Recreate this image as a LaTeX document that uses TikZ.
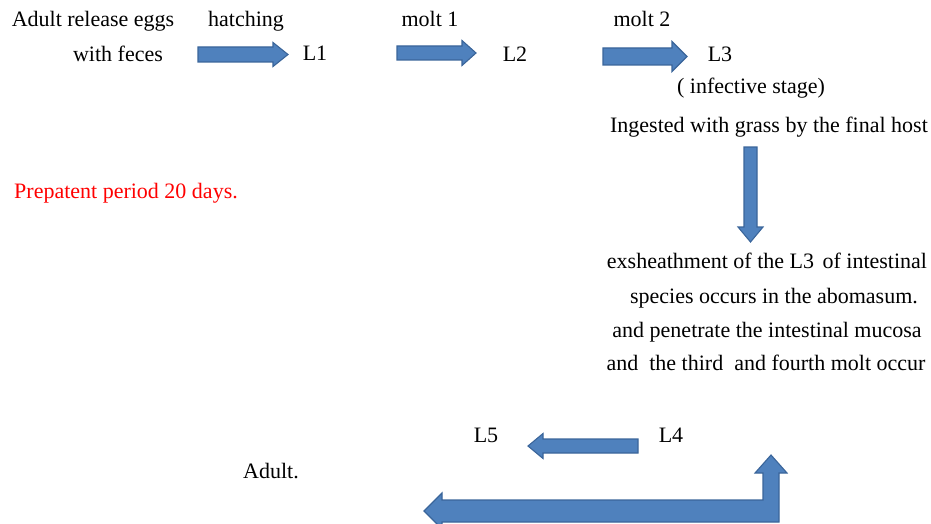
\documentclass[tikz,border=0pt]{standalone}
\usepackage{fontspec}
\setmainfont{Liberation Serif}
\definecolor{arrfill}{HTML}{4F81BD}
\definecolor{arrline}{HTML}{3A659A}
\tikzset{
  txt/.style={inner sep=0pt, outer sep=0pt, anchor=base, font=\fontsize{22}{26}\selectfont},
  blockarrow/.style={fill=arrfill, draw=arrline, line width=1.1pt, line join=miter},
}
% right arrow: tail x, tip x, centre y, shaft half, head half, head length
\newcommand\rarrow[6]{%
  \path[blockarrow] (#1,#3-#4) -- (#2-#6,#3-#4) -- (#2-#6,#3-#5) -- (#2,#3) -- (#2-#6,#3+#5) -- (#2-#6,#3+#4) -- (#1,#3+#4) -- cycle;}
\newcommand\larrow[6]{%
  \path[blockarrow] (#1,#3-#4) -- (#2+#6,#3-#4) -- (#2+#6,#3-#5) -- (#2,#3) -- (#2+#6,#3+#5) -- (#2+#6,#3+#4) -- (#1,#3+#4) -- cycle;}
\newcommand\darrow[6]{%
  \path[blockarrow] (#3-#4,#1) -- (#3-#4,#2-#6) -- (#3-#5,#2-#6) -- (#3,#2) -- (#3+#5,#2-#6) -- (#3+#4,#2-#6) -- (#3+#4,#1) -- cycle;}
\begin{document}
\begin{tikzpicture}[x=1pt,y=-1pt]
\useasboundingbox (0,0) rectangle (931,524);
\clip (0,0) rectangle (931,524);
% top row
\node[txt] (adult1) at (93,27) {Adult release eggs};
\node[txt] (feces) at (118,62) {with feces};
\node[txt] (hatch) at (246,27) {hatching};
\node[txt] (molt1) at (430,27) {molt 1};
\node[txt] (molt2) at (642,27) {molt 2};
\node[txt] (L1) at (315,61) {L1};
\node[txt] (L2) at (515,62) {L2};
\node[txt] (L3) at (720,62) {L3};
\node[txt] (inf) at (751,94) {( infective stage)};
\node[txt] (ingest) at (769,132) {Ingested with grass by the final host};
\node[txt, text=red] (prep) at (126,198) {Prepatent period 20 days.};
\node[txt] (ex1) at (767,268) {exsheathment of the L3\hspace{3pt} of intestinal};
\node[txt] (ex2) at (774,303) {species occurs in the abomasum.};
\node[txt] (ex3) at (767,337) {and penetrate the intestinal mucosa};
\node[txt] (ex4) at (766,370) {and\ \ the third\ \ and fourth molt occur};
\node[txt] (L5) at (486,442) {L5};
\node[txt] (L4) at (671,442) {L4};
\node[txt] (adult2) at (271,478) {Adult.};
% block arrows
\rarrow{198}{288}{54.5}{7.5}{12}{15}
\rarrow{397}{476}{53}{7}{12.5}{14}
\rarrow{603}{687}{56.5}{8.5}{15}{15}
\darrow{147}{242}{750.5}{6.5}{12.5}{15}
\larrow{638}{528}{446}{7}{12.5}{15}
\path[blockarrow] (771,455) -- (787,473) -- (779,473) -- (779,522) -- (442,522) -- (442,529)
  -- (424,511) -- (442,493) -- (442,500) -- (763,500) -- (763,473) -- (755,473) -- cycle;
\end{tikzpicture}
\end{document}
